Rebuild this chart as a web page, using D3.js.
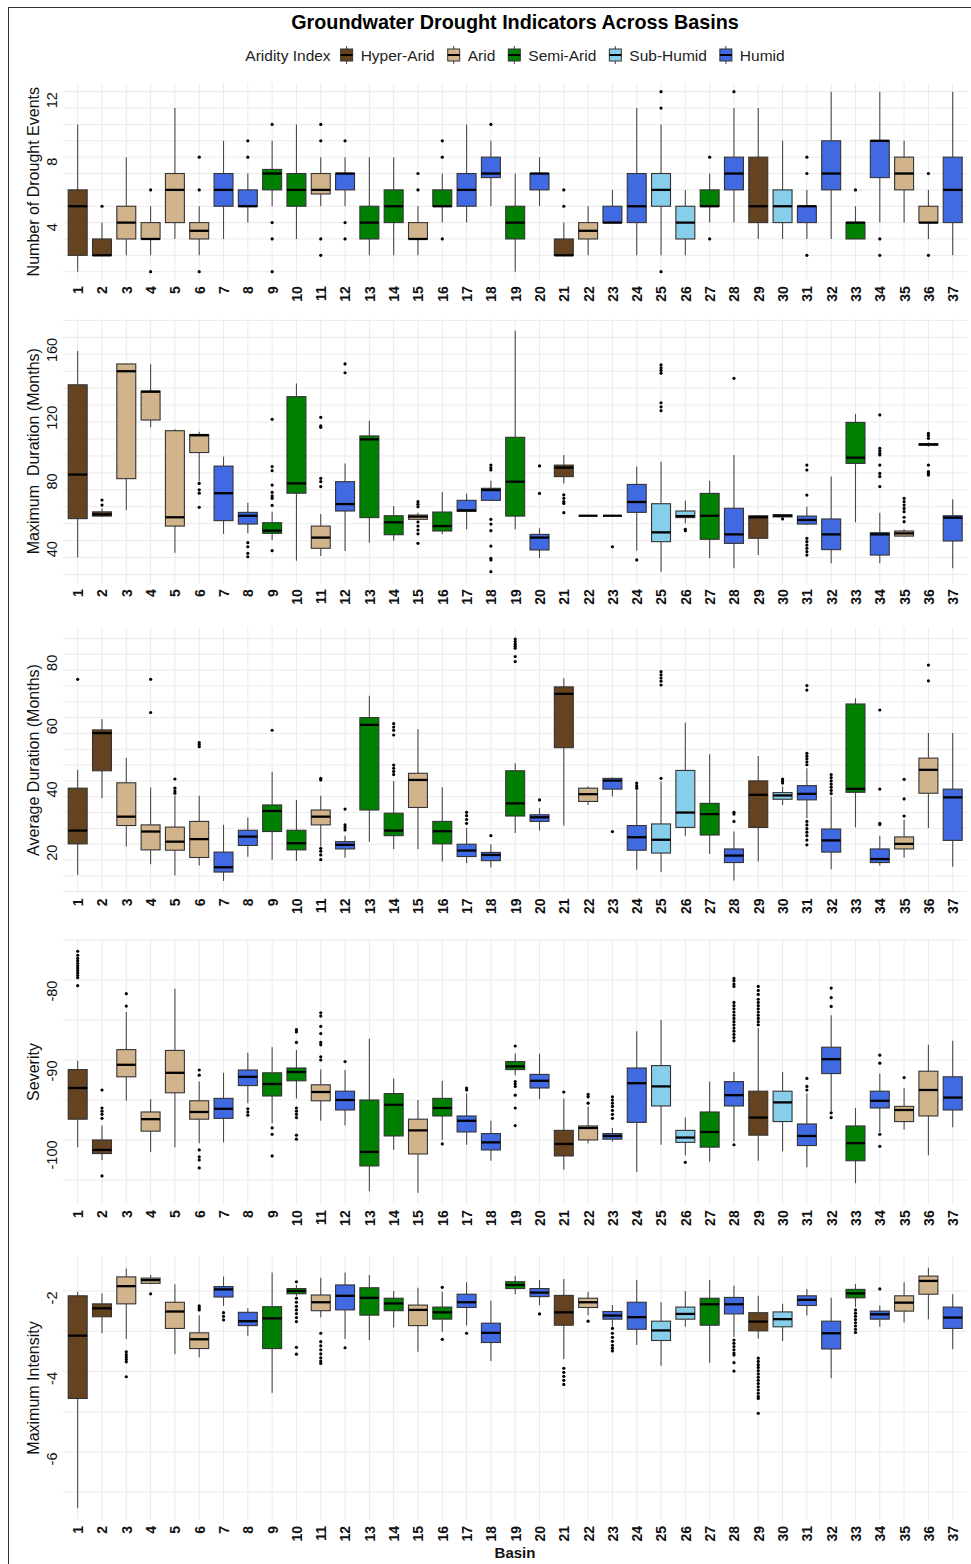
<!DOCTYPE html>
<html><head><meta charset="utf-8">
<script src="https://cdn.jsdelivr.net/npm/d3@7"></script>
<style>body{margin:0;background:#fff;} svg{display:block;font-family:"Liberation Sans",Arial,Helvetica,sans-serif;}</style>
</head><body><svg id="chart" width="971" height="1564"></svg>
<script>
const basins = ["1","2","3","4","5","6","7","8","9","10","11","12","13","14","15","16","17","18","19","20","21","22","23","24","25","26","27","28","29","30","31","32","33","34","35","36","37"];
const aridityLevels = ["Hyper-Arid","Arid","Semi-Arid","Sub-Humid","Humid"];
const aridityColors = ["#654321","#D2B48C","#008000","#87CEEB","#4169E1"];
const basinAridity = ["Hyper-Arid","Hyper-Arid","Arid","Arid","Arid","Arid","Humid","Humid","Semi-Arid","Semi-Arid","Arid","Humid","Semi-Arid","Semi-Arid","Arid","Semi-Arid","Humid","Humid","Semi-Arid","Humid","Hyper-Arid","Arid","Humid","Humid","Sub-Humid","Sub-Humid","Semi-Arid","Humid","Hyper-Arid","Sub-Humid","Humid","Humid","Semi-Arid","Humid","Arid","Arid","Humid"];

// [lower whisker, Q1, median, Q3, upper whisker]
const eventsStats = [[1,2,5,6,10],[2,2,2,3,4],[2,3,4,5,8],[2,3,3,4,5],[3,4,6,7,11],[2,3,3.5,4,5],[3,5,6,7,9],[4,5,5,6,7],[5,6,7,7.25,9],[3,5,6,7,10],[5,5.75,6,7,8],[5,6,7,7,8],[2,3,4,5,8],[2,4,5,6,8],[2,3,3,4,5],[4,5,5,6,7],[4,5,6,7,10],[5,6.75,7,8,9],[1,3,4,5,7],[5,6,7,7,8],[2,2,2,3,4],[2,3,3.5,4,5],[4,4,4,5,6],[2,4,5,7,11],[2,5,6,7,10],[2,3,4,5,6],[4,5,5,6,7],[4,6,7,8,11],[3,4,5,8,11],[3,4,5,6,9],[3,4,5,5,6],[3,6,7,9,12],[3,3,4,4,5],[4,6.75,9,9,12],[4,6,7,8,9],[3,4,4,5,6],[2,4,6,8,12]];
const eventsOutliers = [[],[5],[],[6,1],[],[8,6,1],[],[9,8],[10,4,3,1],[],[10,9,3,2],[9,4,3],[],[],[7,6],[9,8,3],[],[10],[],[],[6,5],[],[],[],[12,11,1],[],[8,3],[12],[],[],[8,7,2],[],[6],[3,2],[],[7,2],[]];

const maxDurStats = [[30,53,79,132,152],[54,54.5,55.5,57,59],[58,76.6,140,144.3,144.3],[106.9,111.2,127.9,128.3,144.1],[32.9,48.6,53.8,104.9,105.7],[75,92,102.2,102.7,104.3],[44,51.8,68,84,89.6],[44.3,49.8,54.7,56.7,62.4],[40.4,44.3,45.9,50.6,57],[28.2,68,73.8,125,132.8],[31,35.5,41.8,48.6,55.7],[33.9,57.5,61.6,74.8,85.6],[38.8,53.6,99.8,101.8,110.8],[40,43.5,50.8,54.7,60.5],[52,52.6,54.2,55.1,56.5],[43.9,45.7,48.6,56.9,68.7],[46.7,57.3,57.9,63.8,67.9],[63.8,63.8,69.9,70.9,75.4],[46.7,54.5,74.8,101,163.9],[29.6,34.5,41.8,43.7,47.3],[73.8,77.8,83.1,84.6,90.6],[54.7,54.7,54.7,54.7,54.7],[54.7,54.7,54.7,54.7,54.7],[34.1,56.7,62.8,73.2,83.7],[21.7,39.4,44.9,61.8,86.6],[50.2,53.6,54.5,57.5,63.6],[29.6,40.8,54.7,67.9,75.4],[23.7,38.4,43.7,59.1,90.6],[31.5,41.4,53.8,54.7,54.7],[53.5,54,54.7,55.3,55.5],[49.2,49.8,52.2,54.5,60],[26.6,34.7,43.7,52.8,77.8],[50.8,85.6,89,109.8,114.8],[26.6,31.5,43.7,44.7,56.5],[42.3,42.7,44.3,45.7,46.7],[95.5,96.3,96.8,97.2,98],[23.7,39.8,53.6,54.7,64.4]];
const maxDurOutliers = [[],[64,61],[],[],[],[73.8,70,68,59.7],[],[38.8,36.4,32.5,30.5],[111.6,83.7,81.3,72.8,68.5,66.4,65,60.8,34.1],[],[112.8,107.7,106.9,76.8,74.8,71.9],[144.3,139.1],[],[],[63,61.5,60,51,48.6,46.3,44,38.4],[],[],[84.6,83,81.7,52.6,49.8,45.9,36.8,29.6,28.6,21.7],[],[84.1,67.9],[67,65,63,62,56.5],[],[36.4],[28.6],[143.7,142,140.5,138.8,121.4,119,116.7],[46.7,45.9],[],[135.8],[],[52.8],[84.6,81.7,66.9,41.4,39.4,37.4,35.5,33.5,31.5],[],[],[114.2,94.5,93,91.5,90.6,84.6,79.7,77.8,71.9],[65,63,61,59,57.1,53.8,51.2],[103.3,102,100.4,84.6,80.7,79.7,78.7],[]];

const avgDurStats = [[10.3,20.1,24.3,37.7,43.5],[34.5,43.2,55.1,56.1,59.5],[19.3,25.9,28.7,39.4,47.2],[13.7,18.2,24,26.1,37.9],[10.1,18.1,20.8,25.4,35.4],[13.3,15.8,21.6,27.2,35.3],[8.4,11.2,12.7,17.5,26.1],[16,19.6,22.4,24.4,28.4],[15.1,24,30.5,32.4,42.9],[14.7,18.2,20.3,24.4,34],[19.3,26.1,28.7,30.8,35.3],[15.8,18.5,19.8,20.8,22.7],[20.8,30.8,57.7,60,66.9],[18.5,22.7,24.3,29.8,40],[18.5,31.6,40.3,42.4,56.3],[14.5,20.1,24.1,27.2,38],[14,16.1,18,20,25.1],[12.6,14.8,16.6,17.4,20],[23.5,28.9,32.9,43.2,45.6],[24.3,27.2,28.5,29.3,31.4],[25.9,50.5,67.5,69.7,72.4],[32.4,33.5,35.8,37.7,38.2],[35.1,37.4,40.1,40.8,41.1],[11.9,18.1,22.2,25.9,37.2],[11.2,17.2,21.4,26.4,39.8],[22.7,25.3,30,43.3,58.4],[16.9,22.9,29.5,32.9,48.4],[8.5,14.2,16.4,18.5,24],[14.5,25.3,35.6,40,47.9],[32.4,34.2,35.4,36.3,38.2],[28.2,34,35.9,38.5,44],[12.1,17.5,21.2,24.8,35],[25.3,36.4,37.5,64.3,66.1],[13.3,14.2,15.3,18.5,22.7],[15.8,18.5,20.1,22.3,27.7],[25.1,36.1,43.5,47.2,55.1],[12.9,21.2,34.8,37.4,55.1]];
const avgDurOutliers = [[72.1],[],[],[72.1,61.6],[40.6,37.7,36.8,36.1],[52.1,51.5,50.8],[],[],[56],[],[40.8,40.3,18.7,17.8,16.6,15.1],[31.1,26.1,25.3,24.5],[],[58.1,57,56,54.5,45,44,43,42],[],[],[30.1,29,27.8,26.6],[22.7],[84.8,84,83.2,82.5,81.9,79.3,77.7],[34],[],[],[24],[39.3,38.5,37.7],[74.5,73.5,72.5,71.5,70.3,40.8],[],[],[30.1,29.5,27.2],[],[40.6,40,39.3],[70.1,68.7,48.7,47.8,47,46,45.1,27.2,26.1,24.9,23.8,22.7,21.3,19.8],[36,37,38,39,40,41,42],[],[62.4,37.4,26.6,26.2],[40.5,34.3,28.9],[76.6,71.6],[]];

const severityStats = [[-100.9,-97.4,-93.5,-91.2,-90.1],[-102.5,-101.7,-101.25,-100,-98.2],[-95.1,-92.1,-90.6,-88.7,-84],[-101.5,-98.9,-97.4,-96.5,-94.9],[-100.9,-94.1,-91.6,-88.8,-81.1],[-100.4,-97.4,-96.5,-95.1,-92.7],[-100.3,-97.3,-96.1,-94.8,-91.6],[-95.4,-93.2,-92.1,-91.25,-89.1],[-97.9,-94.5,-93,-91.6,-88.4],[-94.8,-92.6,-91.5,-91,-88.75],[-97.6,-95.1,-94,-93.1,-91.2],[-98.2,-96.25,-95,-93.9,-91.25],[-106.4,-103.25,-101.5,-95,-87.3],[-101.25,-99.5,-95.6,-94.2,-92.3],[-106.6,-101.75,-98.8,-97.4,-95],[-100,-97,-96,-94.8,-92.6],[-100.6,-99,-97.6,-97,-94.2],[-102.6,-101.25,-100.3,-99.2,-97.6],[-91.9,-91.2,-90.8,-90.2,-89.2],[-94.9,-93.5,-92.6,-91.8,-89.2],[-103.7,-102,-100.5,-98.8,-94.8],[-100.4,-100,-98.5,-98.25,-95.8],[-100.2,-99.9,-99.5,-99.2,-98.5],[-104,-97.8,-92.9,-91,-86.4],[-100.6,-95.75,-93.3,-90.7,-85],[-101.9,-100.3,-99.7,-98.8,-97.2],[-102.7,-100.9,-99,-96.5,-92.7],[-100.2,-95.75,-94.4,-92.7,-91.5],[-102.6,-99.4,-97.2,-93.9,-86],[-101.4,-97.7,-95.3,-93.9,-91.5],[-103.4,-100.7,-99.5,-98,-94.2],[-96.4,-91.7,-89.9,-88.4,-84.4],[-105.4,-102.6,-100.4,-98.25,-96],[-99,-96,-95.1,-93.9,-91.7],[-98.7,-97.7,-96.25,-95.8,-93.5],[-101.9,-97,-93.75,-91.4,-88.1],[-98.4,-96.25,-94.7,-92.1,-87.6]];
const severityOutliers = [[-76.4,-76.9,-77.3,-77.6,-77.9,-78.2,-78.5,-78.8,-79.1,-79.4,-79.7,-80.7],[-93.75,-96,-96.4,-96.8,-97.3,-104.5],[-81.7,-83.25],[],[],[-91.25,-91.9,-101.25,-102.1,-102.5,-103.5],[],[-96.1,-96.5,-96.9],[-98.5,-99.3,-102],[-86.2,-86.5,-87.8,-96,-96.4,-96.8,-97.2,-99.4,-99.9],[-84.1,-84.5,-85.8,-86.7,-87.8,-88.1,-89.6,-90],[-90.2],[],[],[],[-100.5],[-93.5,-93.75],[],[-88.25,-92.7,-93,-93.3,-94.4,-96,-98.2],[],[-94],[-94.3,-94.6,-95.4],[-94.6,-95,-95.4,-95.8,-96.3,-96.8,-97.3],[],[],[-102.8],[],[-79.8,-80.1,-80.5,-80.8,-82.8,-83.2,-83.6,-84,-84.4,-84.8,-85.2,-85.6,-86,-86.4,-86.8,-87.2,-87.6,-100.6],[-80.8,-81.3,-81.8,-82.4,-82.8,-83.2,-83.6,-84,-84.4,-84.8,-85.2,-85.6],[],[-92.3,-93.3,-93.75],[-81,-82.2,-83.3,-96.6,-97.2],[],[-89.4,-90.4,-99.3,-100.8],[-92.2],[],[]];

const intensityStats = [[-7.4,-4.67,-3.11,-2.12,-2.02],[-3.05,-2.64,-2.43,-2.32,-2.06],[-3.19,-2.32,-1.88,-1.65,-1.44],[-1.83,-1.81,-1.73,-1.68,-1.6],[-3.57,-2.93,-2.51,-2.28,-1.83],[-3.65,-3.43,-3.2,-3.04,-2.6],[-2.37,-2.15,-1.96,-1.89,-1.64],[-3.11,-2.86,-2.75,-2.53,-2.43],[-4.53,-3.43,-2.68,-2.39,-1.54],[-2.14,-2.07,-2,-1.94,-1.85],[-2.66,-2.49,-2.28,-2.1,-1.67],[-3.19,-2.47,-2.12,-1.85,-1.54],[-3.22,-2.6,-2.17,-1.92,-1.6],[-2.91,-2.49,-2.31,-2.18,-2],[-3.51,-2.86,-2.47,-2.35,-1.92],[-3.01,-2.7,-2.53,-2.4,-2.02],[-2.86,-2.41,-2.28,-2.08,-1.78],[-3.74,-3.28,-3.04,-2.8,-2.24],[-2.08,-1.94,-1.85,-1.77,-1.62],[-2.35,-2.14,-2.04,-1.94,-1.73],[-3.69,-2.85,-2.53,-2.11,-1.7],[-2.6,-2.41,-2.28,-2.18,-2.02],[-2.89,-2.7,-2.61,-2.51,-2.35],[-3.34,-2.95,-2.65,-2.28,-1.73],[-3.86,-3.23,-2.98,-2.75,-2.28],[-2.89,-2.7,-2.57,-2.4,-2],[-3.78,-2.85,-2.33,-2.18,-1.73],[-3.14,-2.57,-2.33,-2.16,-1.87],[-3.18,-2.99,-2.76,-2.54,-2.12],[-3.24,-2.89,-2.7,-2.52,-2.32],[-2.61,-2.36,-2.22,-2.12,-1.95],[-4.17,-3.44,-3.05,-2.75,-2.17],[-2.4,-2.17,-2.06,-1.96,-1.83],[-2.89,-2.7,-2.58,-2.5,-2.36],[-2.78,-2.5,-2.29,-2.12,-1.78],[-2.7,-2.08,-1.75,-1.63,-1.42],[-3.45,-2.93,-2.66,-2.4,-2.08]];
const intensityOutliers = [[],[],[-3.51,-3.58,-3.64,-3.7,-3.76,-4.13],[-2.07],[],[-2.37,-2.42,-2.47],[-2.54,-2.63,-2.72],[],[],[-1.77,-2.18,-2.28,-2.38,-2.47,-2.56,-2.66,-2.76,-3.4,-3.57],[-3.05,-3.26,-3.36,-3.46,-3.56,-3.66,-3.74,-3.8],[-3.41],[],[],[],[-1.91,-3.2],[-3.05],[],[],[-2.57],[-3.92,-4.02,-4.12,-4.22,-4.32],[-2.75],[-2.93,-3.05,-3.15,-3.25,-3.35,-3.42,-3.49],[],[],[],[],[-3.22,-3.3,-3.38,-3.46,-3.54,-3.59,-3.78,-3.99],[-3.67,-3.75,-3.83,-3.9,-3.98,-4.06,-4.14,-4.22,-4.3,-4.38,-4.46,-4.54,-4.62,-4.67,-5.04],[],[],[],[-2.47,-2.55,-2.63,-2.71,-2.79,-2.87,-2.95,-3.03],[-1.95],[],[],[]];

const yTitles = ["Number of Drought Events","Maximum  Duration (Months)","Average Duration (Months)","Severity","Maximum Intensity"];
const yTickLabels = [[4,8,12],[40,80,120,160],[20,40,60,80],[-100,-90,-80],[-6,-4,-2]];
const yGridSteps = [1,10,5,5,1];

const svg = d3.select("#chart");
const plotLeft = 63.1, plotRight = 967.3;
const panelRanges = [[82.7,280.7],[318.7,583.7],[627,893],[939.2,1204.8],[1255.6,1520.4]];

const panels = [
  {stats: eventsStats, outliers: eventsOutliers},
  {stats: maxDurStats, outliers: maxDurOutliers},
  {stats: avgDurStats, outliers: avgDurOutliers},
  {stats: severityStats, outliers: severityOutliers},
  {stats: intensityStats, outliers: intensityOutliers}
];

const x = d3.scalePoint().domain(basins).range([plotLeft, plotRight]).padding(0.6);
const bw = x.step() * 0.78;
const color = d3.scaleOrdinal().domain(aridityLevels).range(aridityColors);

// frame
svg.append("rect").attr("x",8.5).attr("y",7.5).attr("width",1200).attr("height",1700)
  .attr("fill","none").attr("stroke","#333").attr("stroke-width",1);

// title
svg.append("text").attr("x",515).attr("y",22).attr("text-anchor","middle")
  .attr("dominant-baseline","central").attr("font-size",19.8).attr("font-weight","bold")
  .attr("fill","#000").text("Groundwater Drought Indicators Across Basins");

// legend
const leg = svg.append("g");
const legTitle = leg.append("text").attr("x",0).attr("y",55).attr("dominant-baseline","central")
  .attr("font-size",15.5).attr("fill","#222").text("Aridity Index");
let lx = legTitle.node().getComputedTextLength() + 9;
aridityLevels.forEach((lv) => {
  const kg = leg.append("g").attr("transform",`translate(${lx},0)`);
  kg.append("line").attr("x1",7).attr("x2",7).attr("y1",46).attr("y2",64).attr("stroke","#444").attr("stroke-width",1);
  kg.append("rect").attr("x",1).attr("y",49).attr("width",12).attr("height",12)
    .attr("fill",color(lv)).attr("stroke","#333").attr("stroke-width",1);
  kg.append("line").attr("x1",1).attr("x2",13).attr("y1",55).attr("y2",55).attr("stroke","#000").attr("stroke-width",2);
  const t = leg.append("text").attr("x",lx+21).attr("y",55).attr("dominant-baseline","central")
    .attr("font-size",15.5).attr("fill","#222").text(lv);
  lx += 21 + t.node().getComputedTextLength() + 12;
});
const legW = lx - 12;
leg.attr("transform",`translate(${515 - legW/2},0)`);

panels.forEach((p, pi) => {
  const [bottomPx, topPx] = [panelRanges[pi][1], panelRanges[pi][0]];
  const allVals = p.stats.flat().concat(p.outliers.flat());
  const [mn, mx] = d3.extent(allVals);
  const pad = (mx - mn) * 0.05;
  const y = d3.scaleLinear().domain([mn - pad, mx + pad]).range([bottomPx, topPx]);
  const g = svg.append("g");

  const step = yGridSteps[pi];
  const [d0, d1] = y.domain();
  const gridVals = d3.range(Math.ceil(d0 / step - 1e-9) * step, d1 + 1e-9, step);
  g.append("g").selectAll("line").data(gridVals).join("line")
    .attr("x1", plotLeft).attr("x2", plotRight)
    .attr("y1", d => y(d)).attr("y2", d => y(d))
    .attr("stroke", "#ebebeb").attr("stroke-width", 1);
  g.append("g").selectAll("line").data(basins).join("line")
    .attr("x1", d => x(d)).attr("x2", d => x(d))
    .attr("y1", topPx).attr("y2", bottomPx)
    .attr("stroke", "#ebebeb").attr("stroke-width", 1);

  const boxes = g.append("g").selectAll("g").data(basins).join("g");
  boxes.append("line")
    .attr("x1", d => x(d)).attr("x2", d => x(d))
    .attr("y1", (d,i) => y(p.stats[i][4])).attr("y2", (d,i) => y(p.stats[i][3]))
    .attr("stroke", "#4a4a4a").attr("stroke-width", 1.1);
  boxes.append("line")
    .attr("x1", d => x(d)).attr("x2", d => x(d))
    .attr("y1", (d,i) => y(p.stats[i][1])).attr("y2", (d,i) => y(p.stats[i][0]))
    .attr("stroke", "#4a4a4a").attr("stroke-width", 1.1);
  boxes.append("rect")
    .attr("x", d => x(d) - bw/2).attr("width", bw)
    .attr("y", (d,i) => y(p.stats[i][3]))
    .attr("height", (d,i) => Math.max(0, y(p.stats[i][1]) - y(p.stats[i][3])))
    .attr("fill", (d,i) => color(basinAridity[i]))
    .attr("stroke", "#333").attr("stroke-width", 1.1);
  boxes.append("line")
    .attr("x1", d => x(d) - bw/2).attr("x2", d => x(d) + bw/2)
    .attr("y1", (d,i) => y(p.stats[i][2])).attr("y2", (d,i) => y(p.stats[i][2]))
    .attr("stroke", "#000").attr("stroke-width", 2.3);
  boxes.each(function(d, i) {
    d3.select(this).selectAll("circle").data(p.outliers[i]).join("circle")
      .attr("cx", x(d)).attr("cy", v => y(v)).attr("r", 1.6).attr("fill", "#000");
  });

  // y axis
  const yAxis = g.append("g").attr("transform", `translate(${plotLeft},0)`)
    .call(d3.axisLeft(y).tickValues(yTickLabels[pi]).tickFormat(d => String(d)).tickSize(0).tickPadding(0));
  yAxis.select(".domain").remove();
  yAxis.selectAll("text")
    .attr("x", 0).attr("y", -11.4).attr("dy", "0.35em")
    .attr("transform", "rotate(-90)").attr("text-anchor", "end")
    .attr("font-size", 14.5).attr("fill", "#111")
    .attr("font-family", '"Liberation Sans",Arial,sans-serif');

  // x axis
  const xAxis = g.append("g").attr("transform", `translate(0,${bottomPx})`)
    .call(d3.axisBottom(x).tickSize(0).tickPadding(0));
  xAxis.select(".domain").remove();
  xAxis.selectAll("text")
    .attr("x", -5.5).attr("y", 0).attr("dy", "0.35em")
    .attr("transform", "rotate(-90)").attr("text-anchor", "end")
    .attr("font-size", 14).attr("font-weight", "bold").attr("fill", "#111")
    .attr("font-family", '"Liberation Sans",Arial,sans-serif');

  // y title
  const cy = (topPx + bottomPx) / 2;
  g.append("text").attr("transform", `translate(33,${cy}) rotate(-90)`)
    .attr("text-anchor", "middle").attr("dominant-baseline", "central")
    .attr("font-size", 16).attr("fill", "#111").style("white-space", "pre")
    .text(yTitles[pi]);
});

svg.append("text").attr("x", 515).attr("y", 1552).attr("text-anchor", "middle")
  .attr("dominant-baseline", "central").attr("font-size", 15).attr("font-weight", "bold")
  .attr("fill", "#111").text("Basin");
</script></body></html>
